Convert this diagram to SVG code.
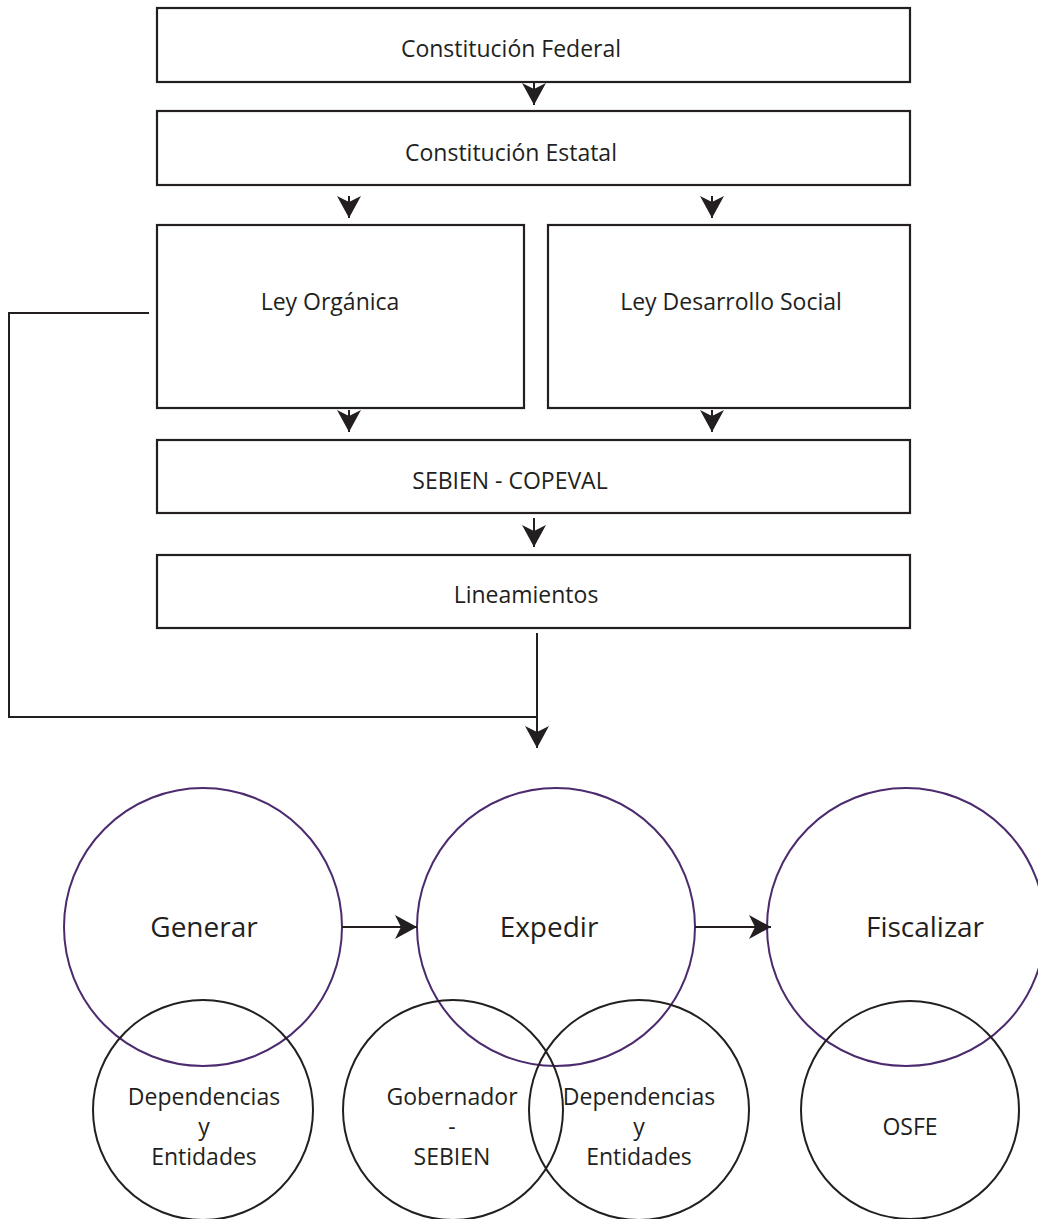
<svg xmlns="http://www.w3.org/2000/svg" width="1038" height="1219" viewBox="0 0 1038 1219">
<style>
.box{fill:#fff;stroke:#231f20;stroke-width:2.2}
.lbl{font-family:"Open Sans","Noto Sans",sans-serif;font-size:23px;fill:#231f20;text-anchor:middle}
.big{font-family:"Open Sans","Noto Sans",sans-serif;font-size:28px;fill:#231f20;text-anchor:middle}
.sm{font-family:"Open Sans","Noto Sans",sans-serif;font-size:23px;fill:#231f20;text-anchor:middle}
.pc{fill:none;stroke:#4b2a6e;stroke-width:2}
.bc{fill:none;stroke:#231f20;stroke-width:2}
.conn{fill:none;stroke:#231f20;stroke-width:2}
</style>
<defs>
<marker id="ah" viewBox="0 0 22 24" refX="22" refY="12" markerWidth="22" markerHeight="24" markerUnits="userSpaceOnUse" orient="auto">
<path d="M0,0 L22,12 L0,24 L6,12 Z" fill="#231f20"/>
</marker>
</defs>
<g id="n-federal"><rect class="box" x="157" y="8" width="753" height="74"/><text class="lbl" x="511" y="57">Constitución Federal</text></g>
<g id="n-estatal"><rect class="box" x="157" y="111" width="753" height="74"/><text class="lbl" x="511" y="161">Constitución Estatal</text></g>
<g id="n-organica"><rect class="box" x="157" y="225" width="367" height="183"/><text class="lbl" x="330" y="310">Ley Orgánica</text></g>
<g id="n-desarrollo"><rect class="box" x="548" y="225" width="362" height="183"/><text class="lbl" x="731" y="310">Ley Desarrollo Social</text></g>
<g id="n-sebien"><rect class="box" x="157" y="440" width="753" height="73"/><text class="lbl" x="510" y="489">SEBIEN - COPEVAL</text></g>
<g id="n-lineamientos"><rect class="box" x="157" y="555" width="753" height="73"/><text class="lbl" x="526" y="603">Lineamientos</text></g>
<g id="n-generar"><circle class="pc" cx="203" cy="927" r="139"/><text class="big" x="204" y="937">Generar</text></g>
<g id="n-expedir"><circle class="pc" cx="556" cy="927" r="139"/><text class="big" x="549" y="937">Expedir</text></g>
<g id="n-fiscalizar"><circle class="pc" cx="906" cy="927" r="139"/><text class="big" x="925" y="937">Fiscalizar</text></g>
<g id="n-dep1"><circle class="bc" cx="203" cy="1110" r="110"/><text class="sm" x="204" y="1105">Dependencias</text><text class="sm" x="204" y="1135">y</text><text class="sm" x="204" y="1165">Entidades</text></g>
<g id="n-gob"><circle class="bc" cx="453" cy="1110" r="110"/><text class="sm" x="452" y="1105">Gobernador</text><text class="sm" x="452" y="1135">-</text><text class="sm" x="452" y="1165">SEBIEN</text></g>
<g id="n-dep2"><circle class="bc" cx="639" cy="1110" r="110"/><text class="sm" x="639" y="1105">Dependencias</text><text class="sm" x="639" y="1135">y</text><text class="sm" x="639" y="1165">Entidades</text></g>
<g id="n-osfe"><circle class="bc" cx="910" cy="1110" r="109"/><text class="sm" x="910" y="1135">OSFE</text></g>
<g id="connectors">
<line class="conn" x1="534" y1="83" x2="534" y2="105" marker-end="url(#ah)"/>
<line class="conn" x1="349" y1="196" x2="349" y2="218" marker-end="url(#ah)"/>
<line class="conn" x1="712" y1="196" x2="712" y2="218" marker-end="url(#ah)"/>
<line class="conn" x1="349" y1="410" x2="349" y2="432" marker-end="url(#ah)"/>
<line class="conn" x1="712" y1="410" x2="712" y2="432" marker-end="url(#ah)"/>
<line class="conn" x1="534" y1="518" x2="534" y2="547" marker-end="url(#ah)"/>
<line class="conn" x1="537" y1="633" x2="537" y2="748" marker-end="url(#ah)"/>
<polyline class="conn" points="149,313 9,313 9,717 537,717"/>
<line class="conn" x1="342" y1="927" x2="417" y2="927" marker-end="url(#ah)"/>
<line class="conn" x1="695" y1="927" x2="771" y2="927" marker-end="url(#ah)"/>
</g>
</svg>
